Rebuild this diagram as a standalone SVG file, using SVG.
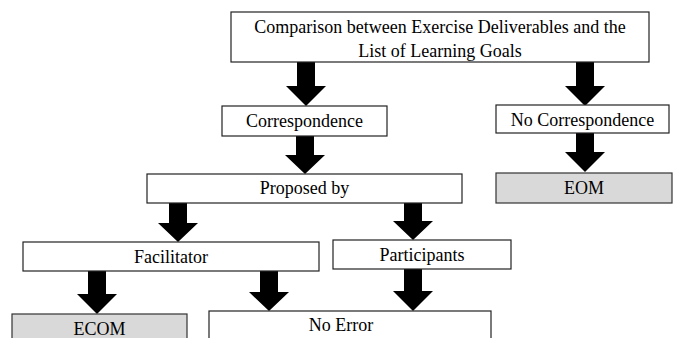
<svg xmlns="http://www.w3.org/2000/svg" width="676" height="338" viewBox="0 0 676 338">
  <style>
    .box { fill: #ffffff; stroke: #222222; stroke-width: 1.2; }
    .end { fill: #d9d9d9; stroke: #333333; stroke-width: 1.2; }
    .lbl { font-family: "Liberation Serif", "Times New Roman", serif; font-size: 18px; fill: #000000; text-anchor: middle; }
    .arrow { fill: #000000; stroke: none; }
  </style>

  <!-- block arrows: shaft 18 wide, head 40 wide, head 20 long -->
  <g id="connectors">
    <path class="arrow" d="M297,62 H315 V86 H326 L306,106 L286,86 H297 Z"/>
    <path class="arrow" d="M576,62 H594 V86 H605 L585,106 L565,86 H576 Z"/>
    <path class="arrow" d="M296,136 H314 V155 H325 L305,174 L285,155 H296 Z"/>
    <path class="arrow" d="M169,203 H187 V223 H198 L178,242 L158,223 H169 Z"/>
    <path class="arrow" d="M404,203 H422 V221 H433 L413,240 L393,221 H404 Z"/>
    <path class="arrow" d="M88,271 H106 V294 H117 L97,314 L77,294 H88 Z"/>
    <path class="arrow" d="M260,271 H278 V292 H289 L269,311 L249,292 H260 Z"/>
    <path class="arrow" d="M404,269 H422 V291 H433 L413,311 L393,291 H404 Z"/>
    <path class="arrow" d="M576,133 H594 V152 H605 L585,172 L565,152 H576 Z"/>
  </g>

  <g id="comparison">
    <rect class="box" x="231" y="12" width="418" height="50"/>
    <text class="lbl" x="440" y="33">Comparison between Exercise Deliverables and the</text>
    <text class="lbl" x="440" y="57">List of Learning Goals</text>
  </g>

  <g id="correspondence">
    <rect class="box" x="222" y="106" width="165" height="30"/>
    <text class="lbl" x="304.5" y="127">Correspondence</text>
  </g>

  <g id="no-correspondence">
    <rect class="box" x="496" y="105" width="173" height="28"/>
    <text class="lbl" x="582.5" y="126">No Correspondence</text>
  </g>

  <g id="eom">
    <rect class="end" x="496" y="173" width="176" height="30"/>
    <text class="lbl" x="584" y="194">EOM</text>
  </g>

  <g id="proposed-by">
    <rect class="box" x="147" y="174" width="315" height="29"/>
    <text class="lbl" x="304.5" y="194">Proposed by</text>
  </g>

  <g id="facilitator">
    <rect class="box" x="23" y="242" width="296" height="29"/>
    <text class="lbl" x="171" y="263">Facilitator</text>
  </g>

  <g id="participants">
    <rect class="box" x="333" y="240" width="178" height="29"/>
    <text class="lbl" x="422" y="261">Participants</text>
  </g>

  <g id="ecom">
    <rect class="end" x="12" y="314" width="175" height="40"/>
    <text class="lbl" x="99.5" y="335">ECOM</text>
  </g>

  <g id="no-error">
    <rect class="box" x="209" y="311" width="282" height="40"/>
    <text class="lbl" x="341" y="331">No Error</text>
  </g>
</svg>
